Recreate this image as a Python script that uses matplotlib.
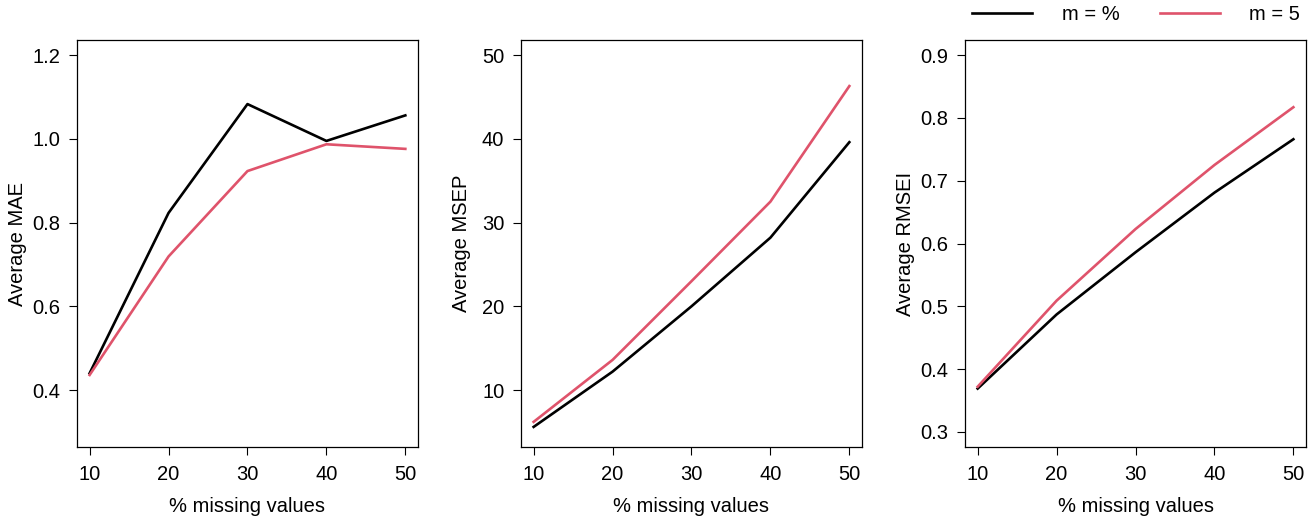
import matplotlib
matplotlib.use("Agg")
import matplotlib.pyplot as plt

plt.rcParams['font.family'] = ['Liberation Sans', 'DejaVu Sans']

pct_missing = [10, 20, 30, 40, 50]

# Average MAE
mae_black = [0.440, 0.823, 1.083, 0.995, 1.056]
mae_red = [0.436, 0.719, 0.923, 0.987, 0.976]

# Average MSEP
msep_black = [5.6, 12.2, 20.0, 28.2, 39.6]
msep_red = [6.2, 13.6, 23.0, 32.5, 46.3]

# Average RMSEI
rmsei_black = [0.369, 0.487, 0.586, 0.681, 0.766]
rmsei_red = [0.372, 0.509, 0.623, 0.725, 0.817]

legend_labels = ['m = %', 'm = 5']
red = '#DF536B'
fs = 14.5

panels = [
    ('Average MAE', mae_black, mae_red, (0.264, 1.236), [0.4, 0.6, 0.8, 1.0, 1.2], '{:.1f}'),
    ('Average MSEP', msep_black, msep_red, (3.2, 51.8), [10, 20, 30, 40, 50], '{:.0f}'),
    ('Average RMSEI', rmsei_black, rmsei_red, (0.276, 0.924), [0.3, 0.4, 0.5, 0.6, 0.7, 0.8, 0.9], '{:.1f}'),
]

fig = plt.figure(figsize=(13.16, 5.17), dpi=100)
lefts = [0.0585, 0.3959, 0.7333]

for left, (ylab, yb, yr, ylim, yticks, fmt) in zip(lefts, panels):
    ax = fig.add_axes([left, 0.1354, 0.2591, 0.7872])
    lb, = ax.plot(pct_missing, yb, color='black', lw=1.9)
    lr, = ax.plot(pct_missing, yr, color=red, lw=1.9)
    ax.set_xlim(8.4, 51.6)
    ax.set_ylim(*ylim)
    ax.set_xticks(pct_missing)
    ax.set_yticks(yticks)
    ax.set_yticklabels([fmt.format(v) for v in yticks])
    ax.tick_params(labelsize=fs, length=6, width=0.8, pad=6, colors='black')
    ax.tick_params(axis='x', pad=7)
    for s in ax.spines.values():
        s.set_linewidth(0.9)
    ax.set_xlabel('% missing values', fontsize=fs, labelpad=9)
    ax.set_ylabel(ylab, fontsize=fs)
    ax.yaxis.set_label_coords(-0.148, 0.5)

fig.legend([lb, lr], legend_labels, loc='center left', bbox_to_anchor=(0.7386, 0.971),
           ncol=2, frameon=False, fontsize=fs, handlelength=3.0, handletextpad=1.45,
           columnspacing=2.0, borderpad=0, borderaxespad=0)

fig.savefig('out.png', dpi=100)
